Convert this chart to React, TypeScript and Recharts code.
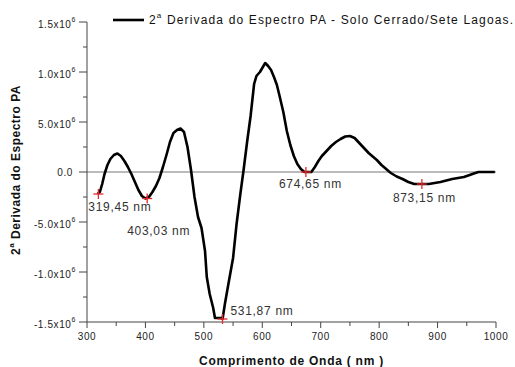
import React from "react";
import { LineChart, Line, XAxis, YAxis, ReferenceLine, ReferenceDot } from "recharts";

const wavelengths = [
  318, 322, 326, 330, 335, 340, 346, 352, 358, 364, 370, 376, 382, 388, 394, 400,
  406, 412, 418, 424, 430, 436, 442, 448, 454, 460, 466, 472, 478, 484, 490, 496,
  502, 505, 510, 516, 519, 524, 530, 532, 536, 542, 550, 556, 562, 568, 574, 580,
  586, 590, 596, 600, 605, 610, 615, 620, 625, 630, 636, 642, 648, 654, 660, 666,
  672, 678, 684, 690, 696, 702, 710, 718, 726, 734, 742, 750, 758, 766, 774, 782,
  790, 796, 804, 812, 820, 830, 840, 850, 860, 872, 885, 895, 905, 915, 925, 935,
  945, 955, 962, 970, 980, 998,
];
const derivative = [
  -0.22, -0.2, -0.12, -0.02, 0.07, 0.13, 0.17, 0.185, 0.16, 0.11, 0.05, -0.02, -0.1, -0.18, -0.24, -0.265,
  -0.25, -0.2, -0.14, -0.06, 0.05, 0.17, 0.3, 0.39, 0.42, 0.435, 0.4, 0.25, 0.02, -0.25, -0.45, -0.56,
  -0.79, -1.05, -1.22, -1.36, -1.46, -1.46, -1.46, -1.47, -1.32, -1.12, -0.86, -0.52, -0.24, 0.02, 0.3, 0.56,
  0.88, 0.96, 1.0, 1.04, 1.09, 1.06, 1.02, 0.95, 0.87, 0.75, 0.6, 0.41, 0.27, 0.16, 0.08, 0.03,
  0.0, 0.0, 0.0, 0.05, 0.11, 0.16, 0.21, 0.26, 0.3, 0.33, 0.355, 0.36, 0.34, 0.29, 0.24, 0.19,
  0.15, 0.12, 0.07, 0.03, -0.01, -0.045, -0.07, -0.1, -0.12, -0.12, -0.12, -0.11, -0.1, -0.085, -0.07, -0.06,
  -0.05, -0.03, -0.015, 0, 0, 0,
].map((v) => v * 1e6);

const markerWavelengths = [319.45, 403.03, 531.87, 674.65, 873.15];
const markerValues = [-0.22e6, -0.265e6, -1.47e6, 0, -0.12e6];
const markerLabels = ["319,45 nm", "403,03 nm", "531,87 nm", "674,65 nm", "873,15 nm"];

const xTicks = [300, 350, 400, 450, 500, 550, 600, 650, 700, 750, 800, 850, 900, 950, 1000];
const yTicks = [
  -1.5e6, -1.25e6, -1e6, -0.75e6, -0.5e6, -0.25e6, 0, 0.25e6, 0.5e6, 0.75e6, 1e6, 1.25e6, 1.5e6,
];
const yTickLabels: Record<string, string> = {
  "-1500000": "-1.5x10",
  "-1000000": "-1.0x10",
  "-500000": "-5.0x10",
  "0": "0.0",
  "500000": "5.0x10",
  "1000000": "1.0x10",
  "1500000": "1.5x10",
};

const data = wavelengths.map((w, i) => ({ nm: w, d: derivative[i] }));

const FONT = "'Liberation Sans', Arial, sans-serif";
const AXIS = "#444";

const labelOffsets = [
  { dx: -10, dy: 13 },
  { dx: -20, dy: 32 },
  { dx: 8, dy: -8 },
  { dx: -27, dy: 12 },
  { dx: -29, dy: 14 },
];

const XTick = (props: any) => {
  const { x, y, payload } = props;
  const major = payload.value % 100 === 0;
  return (
    <g>
      <line x1={x} x2={x} y1={y} y2={y + (major ? 6 : 4)} stroke={AXIS} strokeWidth={1} />
      {major && (
        <text x={x} y={y + 14} textAnchor="middle" dominantBaseline="central" fontSize={10} fontFamily={FONT} fill="#222" letterSpacing={0.6}>
          {payload.value}
        </text>
      )}
    </g>
  );
};

const YTick = (props: any) => {
  const { x, y, payload } = props;
  const label = yTickLabels[String(Math.round(payload.value))];
  const major = label !== undefined;
  return (
    <g>
      <line x1={x - (major ? 8 : 4)} x2={x} y1={y} y2={y} stroke={AXIS} strokeWidth={1} />
      {major &&
        (payload.value === 0 ? (
          <text x={x - 14} y={y} textAnchor="end" dominantBaseline="central" fontSize={10} fontFamily={FONT} fill="#222" letterSpacing={0.6}>
            {label}
          </text>
        ) : (
          <text x={x - 11} y={y + 2} textAnchor="end" dominantBaseline="central" fontSize={10} fontFamily={FONT} fill="#222" letterSpacing={0.6}>
            {label}
            <tspan dy={-5} fontSize={7}>6</tspan>
          </text>
        ))}
    </g>
  );
};

const makeMarker = (i: number) => (props: any) => {
  const { cx, cy } = props;
  const o = labelOffsets[i];
  return (
    <g>
      <line x1={cx - 5} x2={cx + 5} y1={cy} y2={cy} stroke="#e8262a" strokeWidth={1.3} />
      <line x1={cx} x2={cx} y1={cy - 5} y2={cy + 5} stroke="#e8262a" strokeWidth={1.3} />
      <text x={cx + o.dx} y={cy + o.dy} dominantBaseline="central" fontSize={12} fontFamily={FONT} fill="#333" letterSpacing={0.7}>
        {markerLabels[i]}
      </text>
    </g>
  );
};

const XLabel = (props: any) => {
  const vb = props.viewBox;
  return (
    <text x={vb.x + vb.width / 2} y={vb.y + 39} textAnchor="middle" dominantBaseline="central" fontSize={12} fontWeight="bold" fontFamily={FONT} fill="#111" letterSpacing={0.75}>
      Comprimento de Onda ( nm )
    </text>
  );
};

const YLabel = (props: any) => {
  const vb = props.viewBox;
  const cx = 16;
  const cy = vb.y + vb.height / 2 - 2;
  return (
    <text x={cx} y={cy} transform={`rotate(-90 ${cx} ${cy})`} textAnchor="middle" dominantBaseline="central" fontSize={12} fontWeight="bold" fontFamily={FONT} fill="#111" letterSpacing={0.5}>
      2<tspan dy={-5} fontSize={8}>a</tspan>
      <tspan dy={5}> Derivada do Espectro PA</tspan>
    </text>
  );
};

export default function App() {
  return (
    <div style={{ position: "relative", width: 515, height: 367, background: "#fff" }}>
      <style>{"body{margin:0;background:#fff}"}</style>
      <LineChart width={515} height={367} data={data} margin={{ top: 22, right: 19, bottom: 0, left: 0 }}>
        <XAxis
          dataKey="nm"
          type="number"
          domain={[300, 1000]}
          ticks={xTicks}
          interval={0}
          height={45}
          tickSize={0}
          tickMargin={0}
          tickLine={false}
          axisLine={{ stroke: AXIS, strokeWidth: 1 }}
          tick={<XTick />}
          label={<XLabel />}
        />
        <YAxis
          type="number"
          width={87}
          domain={[-1.5e6, 1.5e6]}
          ticks={yTicks}
          interval={0}
          tickSize={0}
          tickMargin={0}
          tickLine={false}
          axisLine={{ stroke: AXIS, strokeWidth: 1 }}
          tick={<YTick />}
          label={<YLabel />}
        />
        <ReferenceLine y={0} stroke="#777" strokeWidth={1} />
        <Line
          type="linear"
          dataKey="d"
          stroke="#000"
          strokeWidth={2.6}
          dot={false}
          isAnimationActive={false}
          strokeLinejoin="round"
        />
        {markerWavelengths.map((w, i) => (
          <ReferenceDot key={w} x={w} y={markerValues[i]} r={5} shape={makeMarker(i)} />
        ))}
      </LineChart>
      <svg width={515} height={40} style={{ position: "absolute", left: 0, top: 0, pointerEvents: "none" }}>
        <line x1={113} x2={144} y1={20} y2={20} stroke="#000" strokeWidth={2.6} />
        <text x={149} y={20} dominantBaseline="central" fontSize={12} fontFamily={FONT} fill="#111" letterSpacing={1.15}>
          2<tspan dy={-5} fontSize={8}>a</tspan>
          <tspan dy={5}> Derivada do Espectro PA - Solo Cerrado/Sete Lagoas.</tspan>
        </text>
      </svg>
    </div>
  );
}
